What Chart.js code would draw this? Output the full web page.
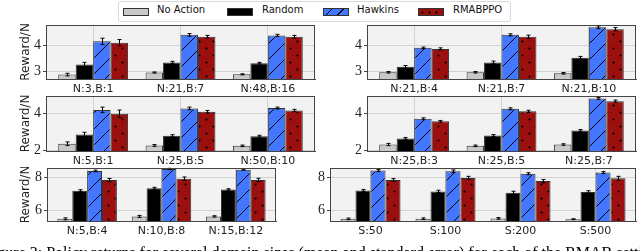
<!DOCTYPE html>
<html>
<head>
<meta charset="utf-8">
<script src="https://cdn.jsdelivr.net/npm/chart.js@4.4.0/dist/chart.umd.min.js"></script>
<style>
  body { margin: 0; width: 640px; height: 251px; overflow: hidden; background: #fff; position: relative; font-family: 'DejaVu Sans', sans-serif; }
  canvas { position: absolute; }
  .box { position: absolute; left: 118px; top: 1px; width: 391px; height: 19px; border: 1px solid #d8d8d8; border-radius: 3px; }
  .sw { position: absolute; top: 8px; width: 24px; height: 6px; border: 1px solid #333; }
  .lt { position: absolute; top: 4px; font-size: 10px; color: #111; line-height: 12px; }
  #caption { position: absolute; left: -16px; top: 244px; font-family: 'Liberation Serif', serif; font-size: 16px; white-space: nowrap; color: #000; }
</style>
</head>
<body>
<div class="box"></div>
<div class="sw" style="left:123px;background:#c8c8c8"></div>
<div class="lt" style="left:157px">No Action</div>
<div class="sw" style="left:227px;background:#000"></div>
<div class="lt" style="left:262px">Random</div>
<div class="sw" style="left:323px;background:repeating-linear-gradient(-45deg,#4477ff 0 7px,#000 7px 8px)"></div>
<div class="lt" style="left:357px">Hawkins</div>
<div class="sw" style="left:418px;background:#9b0f0f radial-gradient(circle,#000 0.9px,transparent 1.3px) 0 0/7px 7px"></div>
<div class="lt" style="left:453px">RMABPPO</div>

<canvas id="c1"></canvas>
<canvas id="c2"></canvas>
<canvas id="c3"></canvas>
<canvas id="c4"></canvas>
<canvas id="c5"></canvas>
<canvas id="c6"></canvas>
<div id="caption">Figure 3: Policy returns for several domain sizes (mean and standard error) for each of the RMAB settings</div>

<script>
// top left: N and B
const labels1 = ['N:3,B:1', 'N:21,B:7', 'N:48,B:16'];
const noAction1 = [2.89, 2.97, 2.90];
const random1 = [3.28, 3.36, 3.33];
const hawkins1 = [4.17, 4.42, 4.40];
const rmabppo1 = [4.12, 4.35, 4.35];
const err1 = [[0.05, 0.02, 0.02], [0.08, 0.04, 0.03], [0.12, 0.05, 0.04], [0.12, 0.05, 0.05]];

// top right
const labels2 = ['N:21,B:4', 'N:21,B:7', 'N:21,B:10'];
const noAction2 = [2.98, 2.98, 2.94];
const random2 = [3.19, 3.36, 3.54];
const hawkins2 = [3.92, 4.42, 4.71];
const rmabppo2 = [3.88, 4.35, 4.64];
const err2 = [[0.03, 0.03, 0.03], [0.05, 0.05, 0.05], [0.03, 0.04, 0.05], [0.04, 0.06, 0.06]];

// middle left
const labels3 = ['N:5,B:1', 'N:25,B:5', 'N:50,B:10'];
const noAction3 = [2.36, 2.27, 2.25];
const random3 = [2.86, 2.79, 2.77];
const hawkins3 = [4.19, 4.27, 4.29];
const rmabppo3 = [3.98, 4.09, 4.16];
const err3 = [[0.1, 0.05, 0.04], [0.12, 0.06, 0.05], [0.15, 0.07, 0.05], [0.2, 0.07, 0.06]];

// middle right
const labels4 = ['N:25,B:3', 'N:25,B:5', 'N:25,B:7'];
const noAction4 = [2.32, 2.25, 2.32];
const random4 = [2.65, 2.81, 3.08];
const hawkins4 = [3.71, 4.25, 4.81];
const rmabppo4 = [3.57, 4.11, 4.66];
const err4 = [[0.06, 0.04, 0.04], [0.05, 0.05, 0.05], [0.05, 0.05, 0.05], [0.05, 0.06, 0.06]];

// bottom left
const labels5 = ['N:5,B:4', 'N:10,B:8', 'N:15,B:12'];
const noAction5 = [5.46, 5.61, 5.61];
const random5 = [7.18, 7.33, 7.26];
const hawkins5 = [8.39, 8.51, 8.47];
const rmabppo5 = [7.83, 7.92, 7.84];
const err5 = [[0.06, 0.06, 0.04], [0.06, 0.06, 0.04], [0.05, 0.04, 0.03], [0.1, 0.1, 0.1]];

// bottom right: S
const labels6 = ['S:50', 'S:100', 'S:200', 'S:500'];
const noAction6 = [5.46, 5.47, 5.49, 5.44];
const random6 = [7.2, 7.14, 7.06, 7.1];
const hawkins6 = [8.41, 8.37, 8.22, 8.29];
const rmabppo6 = [7.84, 7.96, 7.77, 7.94];
const err6 = [[0.05, 0.05, 0.05, 0.03], [0.06, 0.07, 0.09, 0.08], [0.06, 0.08, 0.06, 0.06], [0.08, 0.1, 0.1, 0.12]];

const seriesNames = ['No Action', 'Random', 'Hawkins', 'RMABPPO'];

function hatchPattern() {
  const c = document.createElement('canvas');
  c.width = 16; c.height = 16;
  const g = c.getContext('2d');
  g.fillStyle = '#4477ff';
  g.fillRect(0, 0, 16, 16);
  g.strokeStyle = '#000';
  g.lineWidth = 1;
  g.beginPath();
  g.moveTo(0, 16); g.lineTo(16, 0);
  g.moveTo(-2, 2); g.lineTo(2, -2);
  g.moveTo(14, 18); g.lineTo(18, 14);
  g.stroke();
  return g.createPattern(c, 'repeat');
}
function dotPattern() {
  const c = document.createElement('canvas');
  c.width = 14; c.height = 14;
  const g = c.getContext('2d');
  g.fillStyle = '#9b0f0f';
  g.fillRect(0, 0, 14, 14);
  g.fillStyle = '#000';
  g.beginPath(); g.arc(3.5, 3.5, 1.1, 0, Math.PI * 2); g.fill();
  g.beginPath(); g.arc(10.5, 10.5, 1.1, 0, Math.PI * 2); g.fill();
  return g.createPattern(c, 'repeat');
}
const fills = ['#c8c8c8', '#000000', hatchPattern(), dotPattern()];

const framePlugin = {
  id: 'frame',
  beforeDraw(chart) {
    const a = chart.chartArea, ctx = chart.ctx;
    ctx.save();
    ctx.fillStyle = '#f2f2f2';
    ctx.fillRect(a.left, a.top, a.right - a.left, a.bottom - a.top);
    ctx.restore();
  },
  afterDraw(chart) {
    const a = chart.chartArea, ctx = chart.ctx;
    ctx.save();
    ctx.strokeStyle = '#444';
    ctx.lineWidth = 1;
    ctx.strokeRect(Math.round(a.left) + 0.5, Math.round(a.top) + 0.5, Math.round(a.right - a.left) - 1, Math.round(a.bottom - a.top));
    ctx.restore();
  }
};

const errorBars = {
  id: 'errorBars',
  afterDatasetsDraw(chart) {
    const ctx = chart.ctx, ys = chart.scales.y;
    ctx.save();
    ctx.strokeStyle = '#000';
    ctx.lineWidth = 1;
    chart.data.datasets.forEach((ds, i) => {
      chart.getDatasetMeta(i).data.forEach((bar, j) => {
        const v = ds.data[j].y, e = ds.errs[j];
        const x = Math.round(bar.x) + 0.5;
        const y1 = ys.getPixelForValue(v + e), y2 = ys.getPixelForValue(v - e);
        ctx.beginPath();
        ctx.moveTo(x, y1); ctx.lineTo(x, y2);
        ctx.moveTo(x - 2, y1); ctx.lineTo(x + 2, y1);
        ctx.moveTo(x - 2, y2); ctx.lineTo(x + 2, y2);
        ctx.stroke();
      });
    });
    ctx.restore();
  }
};

const X_H = 17;

function makePanel(id, plot, labels, values, errs, yMin, yMax, yStep, showTitle) {
  const yW = showTitle ? plot.x : 30;
  const cv = document.getElementById(id);
  cv.width = plot.w + yW + 1;
  cv.height = plot.h + 1 + X_H;
  cv.style.left = (plot.x - yW) + 'px';
  cv.style.top = (plot.y - 1) + 'px';
  new Chart(cv, {
    type: 'bar',
    data: {
      datasets: seriesNames.map((name, i) => ({
        label: name,
        data: values[i].map((v, j) => ({ x: j, y: v })),
        errs: errs[i],
        backgroundColor: fills[i],
        borderColor: '#333',
        borderWidth: 1,
        categoryPercentage: 0.8,
        barPercentage: 1
      }))
    },
    options: {
      responsive: false,
      animation: false,
      layout: { padding: { top: 1, right: 1, left: 0, bottom: 0 } },
      plugins: { legend: { display: false }, tooltip: { enabled: false } },
      scales: {
        x: {
          type: 'linear',
          min: -0.54,
          max: labels.length - 0.46,
          offset: false,
          grid: { offset: false, color: '#d2d2d2', tickLength: 0 },
          border: { color: '#444' },
          ticks: {
            stepSize: 1, includeBounds: false, autoSkip: false, maxRotation: 0,
            callback: v => labels[v],
            font: { family: 'DejaVu Sans', size: 11 }, color: '#222', padding: 4
          },
          afterFit: s => { s.height = X_H; s.paddingLeft = 0; s.paddingRight = 0; }
        },
        y: {
          min: yMin,
          max: yMax,
          beginAtZero: false,
          grid: { color: '#d2d2d2', tickLength: 3, tickColor: '#444' },
          border: { color: '#444' },
          ticks: {
            stepSize: yStep, includeBounds: false,
            font: { family: 'Liberation Serif', size: 14 }, color: '#222', padding: 2
          },
          title: {
            display: showTitle, text: 'Reward/N',
            font: { family: 'DejaVu Sans', size: 12 }, color: '#222',
            padding: { top: 19, bottom: 0 }
          },
          afterFit: s => { s.width = yW; s.paddingTop = 0; s.paddingBottom = 0; }
        }
      }
    },
    plugins: [framePlugin, errorBars]
  });
}

makePanel('c1', { x: 46, y: 25, w: 269, h: 54 }, labels1, [noAction1, random1, hawkins1, rmabppo1], err1, 2.72, 4.8, 1, true);
makePanel('c2', { x: 367, y: 25, w: 269, h: 54 }, labels2, [noAction2, random2, hawkins2, rmabppo2], err2, 2.72, 4.8, 1, false);
makePanel('c3', { x: 46, y: 96, w: 269, h: 55 }, labels3, [noAction3, random3, hawkins3, rmabppo3], err3, 1.97, 4.94, 2, true);
makePanel('c4', { x: 367, y: 96, w: 269, h: 55 }, labels4, [noAction4, random4, hawkins4, rmabppo4], err4, 1.97, 4.94, 2, false);
makePanel('c5', { x: 47, y: 168, w: 229, h: 53 }, labels5, [noAction5, random5, hawkins5, rmabppo5], err5, 5.33, 8.57, 2, true);
makePanel('c6', { x: 330, y: 168, w: 306, h: 53 }, labels6, [noAction6, random6, hawkins6, rmabppo6], err6, 5.33, 8.57, 2, false);
</script>
</body>
</html>
